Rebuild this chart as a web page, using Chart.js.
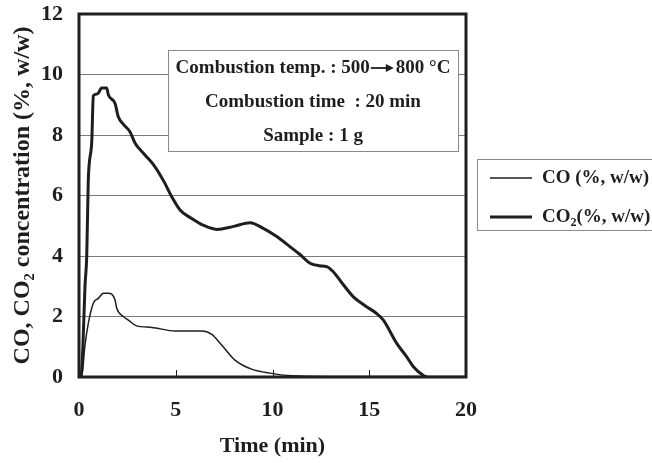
<!DOCTYPE html>
<html>
<head>
<meta charset="utf-8">
<script src="https://cdn.jsdelivr.net/npm/chart.js@4.4.1/dist/chart.umd.min.js"></script>
<style>
  html, body { margin: 0; padding: 0; background: #fff; }
  #wrap { position: relative; width: 652px; height: 463px; }
</style>
</head>
<body>
<div id="wrap"><canvas id="chart"></canvas></div>
<script>
// values
const coTime = [0, 0.14, 0.3, 0.48, 0.74, 1.0, 1.26, 1.52, 1.86, 1.95, 2.29, 2.55, 2.98, 3.76, 4.96, 6.34, 6.86, 7.37, 8.06, 8.92, 9.96, 11, 13, 15, 17, 20];
const coValue = [0, 0, 1.0, 1.77, 2.44, 2.6, 2.77, 2.77, 2.55, 2.27, 2.0, 1.88, 1.69, 1.64, 1.52, 1.52, 1.41, 1.06, 0.56, 0.26, 0.12, 0.04, 0.02, 0.02, 0.02, 0.02];

const co2Time = [0, 0.1, 0.2, 0.31, 0.4, 0.48, 0.66, 0.74, 0.96, 1.17, 1.43, 1.52, 1.86, 2.03, 2.3, 2.64, 2.9, 3.4, 3.93, 4.4, 4.79, 5.22, 5.8, 6.41, 7.12, 8.0, 8.84, 9.5, 10.2, 10.9, 11.42, 11.94, 12.4, 12.8, 13.14, 13.6, 14.18, 14.8, 15.38, 15.73, 16.42, 16.9, 17.28, 17.8, 18];
const co2Value = [0, 0, 1.0, 3.0, 4.0, 6.5, 7.8, 9.3, 9.36, 9.55, 9.55, 9.32, 9.05, 8.6, 8.35, 8.1, 7.73, 7.35, 6.95, 6.45, 5.96, 5.52, 5.25, 5.02, 4.88, 4.98, 5.1, 4.92, 4.65, 4.31, 4.05, 3.76, 3.68, 3.65, 3.48, 3.1, 2.65, 2.35, 2.1, 1.88, 1.11, 0.7, 0.34, 0.05, 0];

const xTicks = [0, 5, 10, 15, 20];
const yTicks = [0, 2, 4, 6, 8, 10, 12];

// first line is split round the arrow, which is drawn by hand
const noteLines = [["Combustion temp. : 500", "800 \u00b0C"], ["Combustion time  : 20 min"], ["Sample : 1 g"]];

const SERIF = "'Liberation Serif', 'Times New Roman', serif";
const INK = "#1e1e1e";
const ARROW_W = 24;

const toPoints = (xs, ys) => xs.map((x, i) => ({ x: x, y: ys[i] }));

// white box with the test conditions, drawn over the grid
const notePlugin = {
  id: "note",
  beforeDatasetsDraw(chart) {
    const { ctx, chartArea } = chart;
    const left = chartArea.left + 89, top = chartArea.top + 36, w = 290, h = 101;
    ctx.save();
    ctx.fillStyle = "#fff";
    ctx.fillRect(left, top, w, h);
    ctx.strokeStyle = "#8a8a8a";
    ctx.lineWidth = 1;
    ctx.strokeRect(left + 0.5, top + 0.5, w, h);
    ctx.fillStyle = INK;
    ctx.strokeStyle = INK;
    ctx.font = "bold 19px " + SERIF;
    ctx.textAlign = "left";
    ctx.textBaseline = "middle";
    noteLines.forEach((parts, i) => {
      const y = top + 18 + i * 34;
      const widths = parts.map(p => ctx.measureText(p).width);
      const total = widths.reduce((a, b) => a + b, 0) + (parts.length - 1) * (ARROW_W + 2);
      let x = left + w / 2 - total / 2;
      parts.forEach((p, j) => {
        ctx.fillText(p, x, y);
        x += widths[j];
        if (j < parts.length - 1) {
          const ay = y;
          ctx.lineWidth = 1.8;
          ctx.beginPath();
          ctx.moveTo(x + 1, ay);
          ctx.lineTo(x + ARROW_W - 5, ay);
          ctx.stroke();
          ctx.beginPath();
          ctx.moveTo(x + ARROW_W, ay);
          ctx.lineTo(x + ARROW_W - 8, ay - 4);
          ctx.lineTo(x + ARROW_W - 8, ay + 4);
          ctx.closePath();
          ctx.fill();
          x += ARROW_W + 2;
        }
      });
    });
    ctx.restore();
  }
};

// heavy frame, inner ticks on the time axis and the boxed legend
const framePlugin = {
  id: "frame",
  afterDatasetsDraw(chart) {
    const { ctx, chartArea, scales } = chart;
    ctx.save();
    ctx.strokeStyle = INK;
    ctx.lineWidth = 1;
    xTicks.slice(1, -1).forEach(v => {
      const px = Math.round(scales.x.getPixelForValue(v)) + 0.5;
      ctx.beginPath();
      ctx.moveTo(px, chartArea.bottom);
      ctx.lineTo(px, chartArea.bottom - 7);
      ctx.stroke();
    });
    ctx.lineWidth = 3;
    ctx.strokeRect(chartArea.left, chartArea.top, chartArea.right - chartArea.left, chartArea.bottom - chartArea.top);
    ctx.restore();
  },
  afterDraw(chart) {
    const { ctx, chartArea } = chart;
    const left = chartArea.right + 11, top = 159;
    ctx.save();
    ctx.strokeStyle = "#8a8a8a";
    ctx.lineWidth = 1;
    ctx.strokeRect(left + 0.5, top + 0.5, 652 - left, 71);
    ctx.strokeStyle = INK;
    ctx.fillStyle = INK;
    ctx.textBaseline = "middle";
    ctx.textAlign = "left";
    chart.data.datasets.forEach((ds, i) => {
      const y = top + 19 + i * 39;
      ctx.lineWidth = ds.borderWidth;
      ctx.beginPath();
      ctx.moveTo(left + 13, y);
      ctx.lineTo(left + 55, y);
      ctx.stroke();
      let x = left + 65;
      ds.legendParts.forEach(p => {
        if (p.sub) {
          ctx.font = "bold 12px " + SERIF;
          ctx.fillText(p.t, x, y + 6);
        } else {
          ctx.font = "bold 19px " + SERIF;
          ctx.fillText(p.t, x, y);
        }
        x += ctx.measureText(p.t).width;
      });
    });
    ctx.restore();
  }
};

new Chart(document.getElementById("chart"), {
  type: "line",
  data: {
    datasets: [
      {
        label: "CO (%, w/w)",
        legendParts: [{ t: "CO (%, w/w)" }],
        data: toPoints(coTime, coValue),
        borderColor: INK,
        borderWidth: 1.5,
        pointRadius: 0,
        cubicInterpolationMode: "monotone",
        fill: false
      },
      {
        label: "CO2(%, w/w)",
        legendParts: [{ t: "CO" }, { t: "2", sub: true }, { t: "(%, w/w)" }],
        data: toPoints(co2Time, co2Value),
        borderColor: INK,
        borderWidth: 3,
        pointRadius: 0,
        cubicInterpolationMode: "monotone",
        fill: false
      }
    ]
  },
  options: {
    responsive: true,
    maintainAspectRatio: false,
    animation: false,
    layout: { padding: { top: 14, right: 186, left: 0, bottom: 0 } },
    plugins: { legend: { display: false }, tooltip: { enabled: false } },
    scales: {
      x: {
        type: "linear",
        min: 0,
        max: 20,
        afterBuildTicks: (s) => { s.ticks = xTicks.map(v => ({ value: v })); },
        afterFit: (s) => { s.height = 86; s.paddingLeft = 0; s.paddingRight = 0; },
        grid: { display: false, drawTicks: false },
        border: { display: false },
        ticks: { color: INK, padding: 20, font: { family: SERIF, size: 22, weight: "bold" }, maxRotation: 0 },
        title: {
          display: true,
          text: "Time (min)",
          color: INK,
          font: { family: SERIF, size: 22, weight: "bold" },
          padding: { top: 0, bottom: 3 }
        }
      },
      y: {
        min: 0,
        max: 12,
        afterBuildTicks: (s) => { s.ticks = yTicks.map(v => ({ value: v })); },
        afterFit: (s) => { s.width = 79; s.paddingTop = 0; s.paddingBottom = 0; },
        grid: { color: "#7a7a7a", lineWidth: 1, drawTicks: false },
        border: { display: false },
        ticks: { color: INK, padding: 16, font: { family: SERIF, size: 22, weight: "bold" } },
        title: {
          display: true,
          text: "CO, CO\u2082 concentration (%, w/w)",
          color: INK,
          font: { family: SERIF, size: 24, weight: "bold" },
          padding: { top: 8, bottom: 0 }
        }
      }
    }
  },
  plugins: [notePlugin, framePlugin]
});
</script>
</body>
</html>
